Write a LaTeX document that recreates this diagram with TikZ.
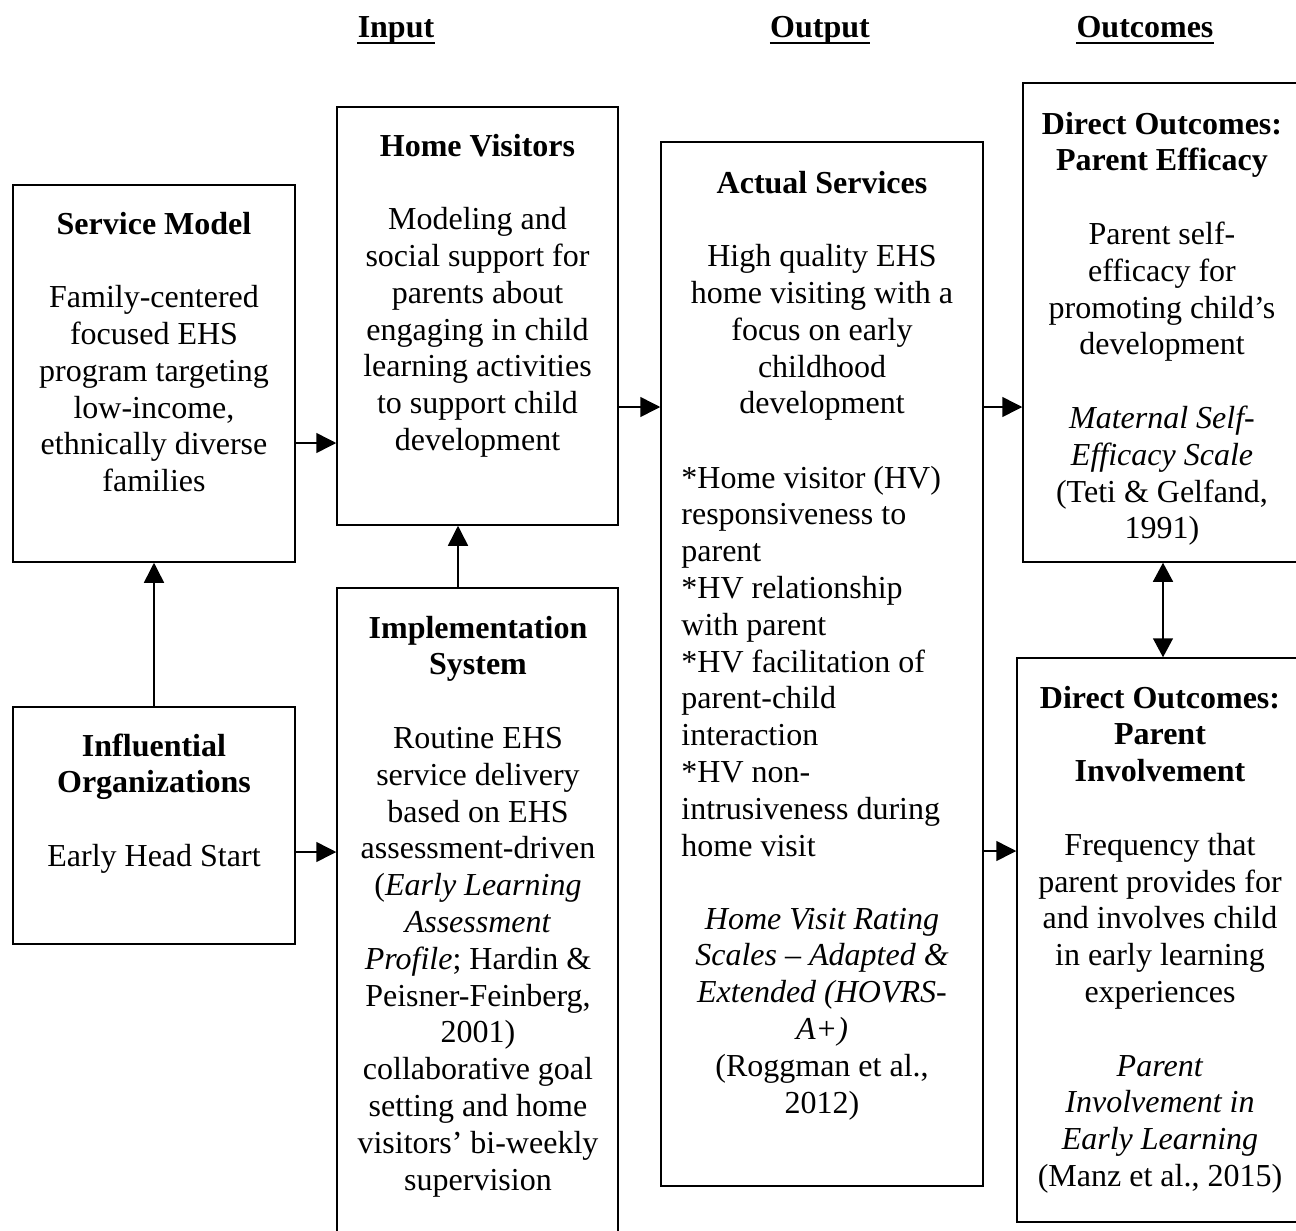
\documentclass[tikz,border=0pt]{standalone}
\usepackage{fontspec}
\setmainfont{Liberation Serif}
\usetikzlibrary{arrows.meta,calc}
\begin{document}
\begin{tikzpicture}[x=0.5pt,y=-0.5pt,
  box/.style={draw,line width=0.75pt,inner sep=0pt},
  txt/.style={align=center,anchor=north,inner sep=0pt,font=\fontsize{16}{18.4}\selectfont},
  txtl/.style={align=left,anchor=north west,inner sep=0pt,font=\fontsize{16}{18.4}\selectfont},
  hdr/.style={anchor=base,inner sep=0pt,font=\fontsize{16}{18.4}\selectfont\bfseries},
  uline/.style={line width=1.4pt},
  arr/.style={line width=0.75pt,-{Triangle[length=10pt,width=10pt]}},
  darr/.style={line width=0.75pt,{Triangle[length=9.5pt,width=10pt]}-{Triangle[length=9.5pt,width=10pt]}}]
\useasboundingbox (0,0) rectangle (1296,1231);
% headers
\node[hdr] (hin) at (396,38) {Input};
\node[hdr] (hout) at (820,38) {Output};
\node[hdr] (hoc) at (1145,38) {Outcomes};
\draw[uline] ($(hin.base west)+(0,5)$) -- ($(hin.base east)+(0,5)$);
\draw[uline] ($(hout.base west)+(0,5)$) -- ($(hout.base east)+(0,5)$);
\draw[uline] ($(hoc.base west)+(0,5)$) -- ($(hoc.base east)+(0,5)$);
% boxes
\node[box,minimum width=141pt,minimum height=188.5pt] (sm) at (154,373.5) {};
\node[box,minimum width=140.5pt,minimum height=209pt] (hv) at (477.5,316) {};
\node[box,minimum width=141pt,minimum height=118.5pt] (io) at (154,825.5) {};
\node[box,minimum width=140.5pt,minimum height=336pt] (is) at (477.5,924) {};
\node[box,minimum width=161pt,minimum height=522pt] (as) at (822,664) {};
\node[box,minimum width=143.5pt,minimum height=239.5pt] (pe) at (1166.5,322.5) {};
\node[box,minimum width=146.5pt,minimum height=282pt] (pi) at (1163.5,940) {};
% texts
\node[txt] (smt) at (154,208) {\strut\textbf{Service Model}\\ \strut\\ Family-centered\\ focused EHS\\ program targeting\\ low-income,\\ ethnically diverse\\ families};
\node[txt] (hvt) at (477.5,130) {\strut\textbf{Home Visitors}\\ \strut\\ Modeling and\\ social support for\\ parents about\\ engaging in child\\ learning activities\\ to support child\\ development};
\node[txt] (iot) at (154,730) {\strut\textbf{Influential}\\ \textbf{Organizations}\\ \strut\\ Early Head Start};
\node[txt] (ist) at (478,612) {\strut\textbf{Implementation}\\ \textbf{System}\\ \strut\\ Routine EHS\\ service delivery\\ based on EHS\\ assessment-driven\\ (\textit{Early Learning}\\ \textit{Assessment}\\ \textit{Profile}; Hardin \&\\ Peisner-Feinberg,\\ 2001)\\ collaborative goal\\ setting and home\\ visitors’ bi-weekly\\ supervision};
\node[txt] (ast1) at (822,167) {\strut\textbf{Actual Services}\\ \strut\\ High quality EHS\\ home visiting with a\\ focus on early\\ childhood\\ development};
\node[txtl] (ast2) at (681,462) {\strut*Home visitor (HV)\\ responsiveness to\\ parent\\ *HV relationship\\ with parent\\ *HV facilitation of\\ parent-child\\ interaction\\ *HV non-\\ intrusiveness during\\ home visit};
\node[txt] (ast3) at (822,903) {\strut\textit{Home Visit Rating}\\ \textit{Scales – Adapted \&}\\ \textit{Extended (HOVRS-}\\ \textit{A+)}\\ (Roggman et al.,\\ 2012)};
\node[txt] (pet) at (1162,108) {\strut\textbf{Direct Outcomes:}\\ \textbf{Parent Efficacy}\\ \strut\\ Parent self-\\ efficacy for\\ promoting child’s\\ development\\ \strut\\ \textit{Maternal Self-}\\ \textit{Efficacy Scale}\\ (Teti \& Gelfand,\\ 1991)};
\node[txt] (pit) at (1160,682) {\strut\textbf{Direct Outcomes:}\\ \textbf{Parent}\\ \textbf{Involvement}\\ \strut\\ Frequency that\\ parent provides for\\ and involves child\\ in early learning\\ experiences\\ \strut\\ \textit{Parent}\\ \textit{Involvement in}\\ \textit{Early Learning}\\ (Manz et al., 2015)};
% connectors
\draw[arr] (sm.east |- 0,443) -- (hv.west |- 0,443);
\draw[arr] (io.north) -- (sm.south);
\draw[arr] (is.north -| 458,0) -- (hv.south -| 458,0);
\draw[arr] (hv.east |- 0,407) -- (as.west |- 0,407);
\draw[arr] (io.east |- 0,852) -- (is.west |- 0,852);
\draw[arr] (as.east |- 0,407) -- (pe.west |- 0,407);
\draw[arr] (as.east |- 0,851) -- (pi.west |- 0,851);
\draw[darr] (pe.south -| 1163,0) -- (pi.north -| 1163,0);
\end{tikzpicture}
\end{document}
